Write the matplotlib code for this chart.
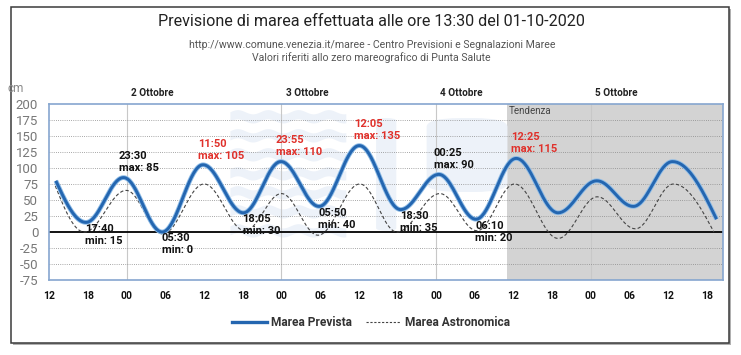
import numpy as np
import matplotlib

matplotlib.use("Agg")
import matplotlib.pyplot as plt  # noqa: E402
from matplotlib.lines import Line2D  # noqa: E402
from matplotlib.patches import Rectangle, FancyBboxPatch  # noqa: E402

W, H = 741, 355

# --- data (day hh:mm, October 2020) ---------------------------------------
ORIGIN = "01 12:00"
X_END = "05 20:30"
TREND_START = "04 11:00"

prev_times = ["01 13:00", "01 17:40", "01 23:30", "02 05:30", "02 11:50", "02 18:05",
              "02 23:55", "03 05:50", "03 12:05", "03 18:30", "04 00:25", "04 06:10",
              "04 12:25", "04 18:55", "05 00:55", "05 06:35", "05 12:40", "05 19:30"]
prev_levels = [80, 15, 85, 0, 105, 30, 110, 40, 135, 35, 90, 20, 115, 30, 80, 40, 110, 20]

astro_times = ["01 12:55", "01 17:25", "01 23:55", "02 05:35", "02 12:00", "02 18:20",
               "03 00:00", "03 05:40", "03 12:10", "03 17:55", "04 00:35", "04 06:20",
               "04 12:10", "04 18:55", "05 01:00", "05 06:55", "05 12:50", "05 19:05"]
astro_levels = [72, 0, 65, -3, 75, 2, 60, -5, 75, 0, 60, 2, 75, -10, 55, 5, 75, 0]

labelled = list(range(1, 13))  # extrema of the forecast that carry a label
ALERT = 100                    # max labels at or above this are red

y_ticks = [-75, -50, -25, 0, 25, 50, 75, 100, 125, 150, 175, 200]
x_tick_labels = ["12", "18", "00", "06", "12", "18", "00", "06", "12",
                 "18", "00", "06", "12", "18", "00", "06", "12", "18"]
day_labels = ["2 Ottobre", "3 Ottobre", "4 Ottobre", "5 Ottobre"]
day_starts = ["02 00:00", "03 00:00", "04 00:00", "05 00:00"]

SANS = ["Roboto", "DejaVu Sans"]
BLUE = "#2466b0"
RED = "#e0312b"


def hours(stamp):
    day, hm = stamp.split()
    hh, mm = hm.split(":")
    d0, h0 = ORIGIN.split()
    return (int(day) - int(d0)) * 24 + int(hh) + int(mm) / 60 - int(h0.split(":")[0])


def tide_curve(times, levels, n=40):
    """Smooth tide-like curve through the extrema (ends are mid-slope)."""
    xs, ys = [], []
    last = len(times) - 2
    for i in range(len(times) - 1):
        t0, t1, y0, y1 = times[i], times[i + 1], levels[i], levels[i + 1]
        s = np.linspace(0, 1, n)
        if i == 0:
            w = np.sin(np.pi / 2 * s)
        elif i == last:
            w = 1 - np.cos(np.pi / 2 * s)
        else:
            w = (1 - np.cos(np.pi * s)) / 2
        xs.append(t0 + (t1 - t0) * s)
        ys.append(y0 + (y1 - y0) * w)
    return np.concatenate(xs), np.concatenate(ys)


def fx(px):
    return px / W


def fy(py):
    return 1 - py / H


fig = plt.figure(figsize=(W / 100, H / 100), dpi=100)
fig.patch.set_facecolor("white")

# outer frame with a soft shadow
fig.add_artist(Rectangle((fx(12.5), fy(344.5)), fx(718), 336 / H, transform=fig.transFigure,
                         facecolor="#b0b0b0", edgecolor="none", zorder=-3))
fig.add_artist(Rectangle((fx(11), fy(343)), fx(718), 336 / H, transform=fig.transFigure,
                         facecolor="white", edgecolor="#3a3a3a", linewidth=1.1, zorder=-2))

ax = fig.add_axes([fx(49.4), fy(280), fx(723 - 49.4), (280 - 104) / H])
t_end = hours(X_END)
ax.set_xlim(0, t_end)
ax.set_ylim(-75, 200)

# watermark (faint logo of the Comune di Venezia)
wm = "#edf2f9"
for k in range(7):
    xx = np.linspace(0.268, 0.44, 120)
    yc = 0.93 - k * 0.108
    yy = yc + 0.012 * np.sin((xx - 0.268) / 0.045 * 2 * np.pi)
    ax.fill_between(xx, yy - 0.026, yy + 0.026, transform=ax.transAxes, color=wm, lw=0, zorder=0.2)
ax.add_patch(FancyBboxPatch((0.485, 0.28), 0.03, 0.64, boxstyle="round,pad=0,rounding_size=0.015",
                            transform=ax.transAxes, facecolor=wm, edgecolor="none", zorder=0.2))
ax.add_patch(FancyBboxPatch((0.56, 0.5), 0.12, 0.42, boxstyle="round,pad=0,rounding_size=0.05",
                            transform=ax.transAxes, facecolor=wm, edgecolor="none", zorder=0.2))

# trend zone
ax.axvspan(hours(TREND_START), t_end, color="#d3d3d3", lw=0, zorder=0.1)
ax.text(hours(TREND_START) + 0.2, 197, "Tendenza", fontsize=7, color="#444444",
        family=SANS, ha="left", va="top", zorder=3)

# grid
for v in y_ticks:
    if v == 0:
        ax.axhline(v, color="black", lw=1.3, zorder=2)
    elif -75 < v < 200:
        ax.axhline(v, color="#8a8a8a", lw=0.6, linestyle=(0, (1, 1.6)), zorder=1)
for stamp in day_starts:
    ax.axvline(hours(stamp), color="#c8c8c8", lw=0.8, zorder=0.5)

# curves
pt = [hours(s) for s in prev_times]
at = [hours(s) for s in astro_times]
ax_x, ax_y = tide_curve(at, astro_levels)
ax.plot(ax_x, ax_y, color="#444444", lw=0.8, linestyle=(0, (3, 2)), zorder=3)
pr_x, pr_y = tide_curve(pt, prev_levels)
ax.plot(pr_x, pr_y, color="#8dbbe6", lw=3.4, solid_capstyle="butt", zorder=4)
ax.plot(pr_x, pr_y, color=BLUE, lw=2.1, solid_capstyle="butt", zorder=5)

# extrema labels
for i in labelled:
    t, v = pt[i], prev_levels[i]
    is_max = v > prev_levels[i - 1]
    clock = prev_times[i].split()[1]
    if is_max:
        color = RED if v >= ALERT else "#111111"
        ax.annotate(f"{clock}\nmax: {v}", (t, v), xytext=(-3.5, 3), textcoords="offset points",
                    ha="left", va="bottom", fontsize=8, fontweight="bold", color=color,
                    family=SANS, linespacing=1.25, zorder=6)
    else:
        ax.annotate(f"{clock}\nmin: {v}", (t, v), xytext=(-0.5, -1), textcoords="offset points",
                    ha="left", va="top", fontsize=8, fontweight="bold", color="#111111",
                    family=SANS, linespacing=1.25, zorder=6)

# day labels above the plot
for stamp, label in zip(day_starts, day_labels):
    ax.annotate(label, (hours(stamp), 200), xytext=(3, 4), textcoords="offset points",
                ha="left", va="bottom", fontsize=7.2, fontweight="bold", color="#222222",
                family=SANS, annotation_clip=False)

# axes styling
ax.set_xticks(np.arange(len(x_tick_labels)) * 6)
ax.set_xticklabels(x_tick_labels, fontsize=7.5, fontweight="bold", family=SANS, color="#111111")
ax.set_yticks(y_ticks)
ax.set_yticklabels([str(v) for v in y_ticks], fontsize=9.5, family=SANS, color="#777777")
ax.tick_params(axis="x", length=0, pad=8)
ax.tick_params(axis="y", length=0, pad=8)
for sp in ax.spines.values():
    sp.set_color("#86a6cf")
    sp.set_linewidth(1.2)
    sp.set_zorder(7)

# titles
fig.text(fx(371), fy(21), "Previsione di marea effettuata alle ore 13:30 del 01-10-2020",
         ha="center", va="center", fontsize=11.6, family=SANS, color="#222222")
fig.text(fx(372), fy(45), "http://www.comune.venezia.it/maree - Centro Previsioni e Segnalazioni Maree",
         ha="center", va="center", fontsize=7.6, family=SANS, color="#555555")
fig.text(fx(371), fy(58), "Valori riferiti allo zero mareografico di Punta Salute",
         ha="center", va="center", fontsize=7.6, family=SANS, color="#555555")
fig.text(fx(8), fy(89), "cm", ha="left", va="center", fontsize=8.5, family=SANS, color="#888888")

# legend
handles = [Line2D([], [], color=BLUE, lw=2.4),
           Line2D([], [], color="#444444", lw=0.8, linestyle=(0, (2, 1.5)))]
fig.legend(handles, ["Marea Prevista", "Marea Astronomica"], loc="center",
           bbox_to_anchor=(fx(371), fy(323)), ncol=2, frameon=False,
           prop={"family": SANS, "size": 8.6, "weight": "bold"}, labelcolor="#333333",
           handlelength=2.9, handletextpad=0.4, columnspacing=1.1)

fig.savefig("out.png", dpi=100)
